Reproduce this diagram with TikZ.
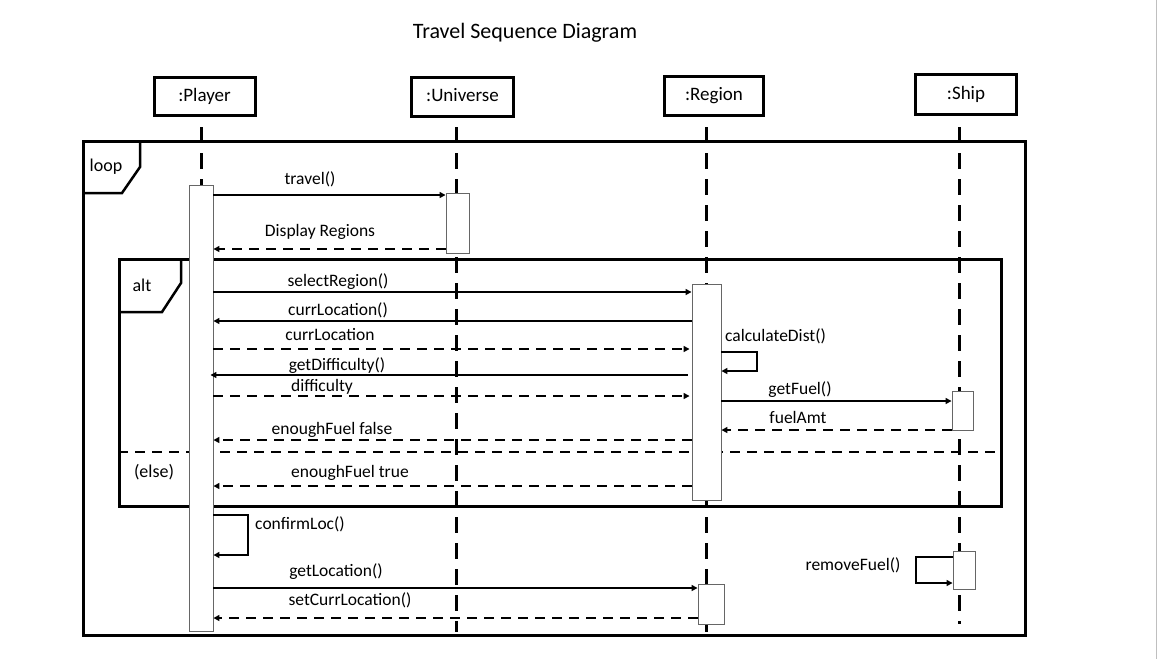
\documentclass[tikz,border=0pt]{standalone}
\usepackage{fontspec}
\setmainfont{Carlito}
\usetikzlibrary{arrows.meta,calc}
\begin{document}
\begin{tikzpicture}[x=1pt,y=-1pt,
  part/.style={draw,line width=3pt,inner sep=0pt,text height=13pt,text depth=4pt,font=\fontsize{19}{21}\selectfont},
  act/.style={draw=black!60,line width=0.9pt,fill=white,inner sep=0pt},
  life/.style={line width=3pt,dash pattern=on 16pt off 10pt},
  frm/.style={line width=2.5pt},
  msg/.style={line width=2pt,-{Triangle[length=6pt,width=6pt]}},
  ret/.style={msg,dash pattern=on 10pt off 7pt},
  selfmsg/.style={line width=2.8pt,-{Triangle[length=6pt,width=6pt]}},
  lbl/.style={inner sep=0pt,font=\fontsize{17.5}{19}\selectfont},
  tag/.style={inner sep=0pt,font=\fontsize{18}{20}\selectfont}]
\useasboundingbox (0,0) rectangle (1158,659);
\fill[white] (0,0) rectangle (1158,659);
\draw[black!25,line width=1.5pt] (1156.5,0) -- (1156.5,659);

% title
\node[inner sep=0pt,font=\fontsize{22}{24}\selectfont] (title) at (525,33) {Travel Sequence Diagram};

% participants
\node[part,minimum width=101pt,minimum height=38pt] (P) at (204.5,96.5) {:Player};
\node[part,minimum width=102pt,minimum height=39pt] (U) at (462.5,97) {:Universe};
\node[part,minimum width=99pt,minimum height=39pt] (R) at (714,96) {:Region};
\node[part,minimum width=101pt,minimum height=40pt] (S) at (966,94.5) {:Ship};

% lifelines
\coordinate (lPt) at (201,127); \coordinate (lPb) at (201,630);
\coordinate (lUt) at (456,127); \coordinate (lUb) at (456,632);
\coordinate (lRt) at (706,127); \coordinate (lRb) at (706,632);
\coordinate (lSt) at (959,127); \coordinate (lSb) at (959,624);
\draw[life] (lPt) -- (lPb);
\draw[life] (lUt) -- (lUb);
\draw[life] (lRt) -- (lRb);
\draw[life] (lSt) -- (lSb);

% loop frame
\node[draw,frm,anchor=north west,minimum width=942pt,minimum height=494pt,inner sep=0pt] (loopf) at (82,140) {};
\draw[frm] (140,140) -- (140,167) -- (122,193) -- (82,193);
\node[tag] (looplbl) at (106,167) {loop};

% alt frame
\node[draw,frm,anchor=north west,minimum width=882pt,minimum height=247pt,inner sep=0pt] (altf) at (118,258) {};
\draw[frm] (181,258) -- (181,283) -- (162,312) -- (118,312);
\node[tag] (altlbl) at (142,285) {alt};
\draw[line width=2.5pt,dash pattern=on 10pt off 7pt] (altf.west |- 0,452) -- (1002,452);
\node[tag] (elselbl) at (154,472) {(else)};

% activations
\node[act,minimum width=24pt,minimum height=446pt] (aP) at (201,408) {};
\node[act,minimum width=23pt,minimum height=60pt] (aU) at (457.5,223) {};
\node[act,minimum width=29pt,minimum height=216pt] (aR) at (706.5,392) {};
\node[act,minimum width=21pt,minimum height=39pt] (aS) at (962.5,410.5) {};
\node[act,minimum width=26pt,minimum height=40pt] (aR2) at (711,604) {};
\node[act,minimum width=22pt,minimum height=38pt] (aS2) at (964,570) {};

% messages
\draw[msg] (aP.east |- 0,195) -- (aU.west |- 0,195);
\node[lbl] (m1) at (310,179) {travel()};
\draw[ret] (aU.west |- 0,249) -- (aP.east |- 0,249);
\node[lbl] (m2) at (320,232) {Display Regions};

\draw[msg] (aP.east |- 0,292) -- (aR.west |- 0,292);
\node[lbl] (m3) at (338,282) {selectRegion()};
\draw[msg] (aR.west |- 0,321) -- (aP.east |- 0,321);
\node[lbl] (m4) at (338,310) {currLocation()};
\draw[ret] (aP.east |- 0,349) -- ($(aR.west |- 0,349)+(-2,0)$);
\node[lbl] (m5) at (330,335) {currLocation};
\draw[msg] ($(aR.west |- 0,375)+(-4,0)$) -- ($(aP.east |- 0,375)+(-3,0)$);
\node[lbl] (m6) at (337,366) {getDifficulty()};
\draw[ret] (aP.east |- 0,396) -- ($(aR.west |- 0,396)+(-2,0)$);
\node[lbl] (m7) at (322,387) {difficulty};

\coordinate (cd1) at (757,352); \coordinate (cd2) at (757,371);
\draw[selfmsg] (aR.east |- cd1) -- (cd1) -- (cd2) -- (aR.east |- cd2);
\node[lbl] (m8) at (775.5,336) {calculateDist()};

\draw[msg] (aR.east |- 0,401) -- (aS.west |- 0,401);
\node[lbl] (m9) at (800,390) {getFuel()};
\draw[ret] (aS.west |- 0,430) -- (aR.east |- 0,430);
\node[lbl] (m10) at (798,417) {fuelAmt};

\draw[ret] (aR.west |- 0,440) -- (aP.east |- 0,440);
\node[lbl] (m11) at (332,430) {enoughFuel false};
\draw[ret] (aR.west |- 0,486) -- (aP.east |- 0,486);
\node[lbl] (m12) at (350,473) {enoughFuel true};

\coordinate (cl1) at (248,515); \coordinate (cl2) at (248,555);
\draw[selfmsg] (aP.east |- cl1) -- (cl1) -- (cl2) -- (aP.east |- cl2);
\node[lbl] (m13) at (300,524) {confirmLoc()};

\draw[msg] (aP.east |- 0,588) -- (aR2.west |- 0,588);
\node[lbl] (m14) at (336,572) {getLocation()};
\draw[ret] (aR2.west |- 0,618) -- (aP.east |- 0,618);
\node[lbl] (m15) at (350,600) {setCurrLocation()};

\coordinate (rf1) at (916,557); \coordinate (rf2) at (916,583);
\draw[selfmsg] (aS2.west |- rf1) -- (rf1) -- (rf2) -- (aS2.west |- rf2);
\node[lbl] (m16) at (853,565) {removeFuel()};
\end{tikzpicture}
\end{document}
